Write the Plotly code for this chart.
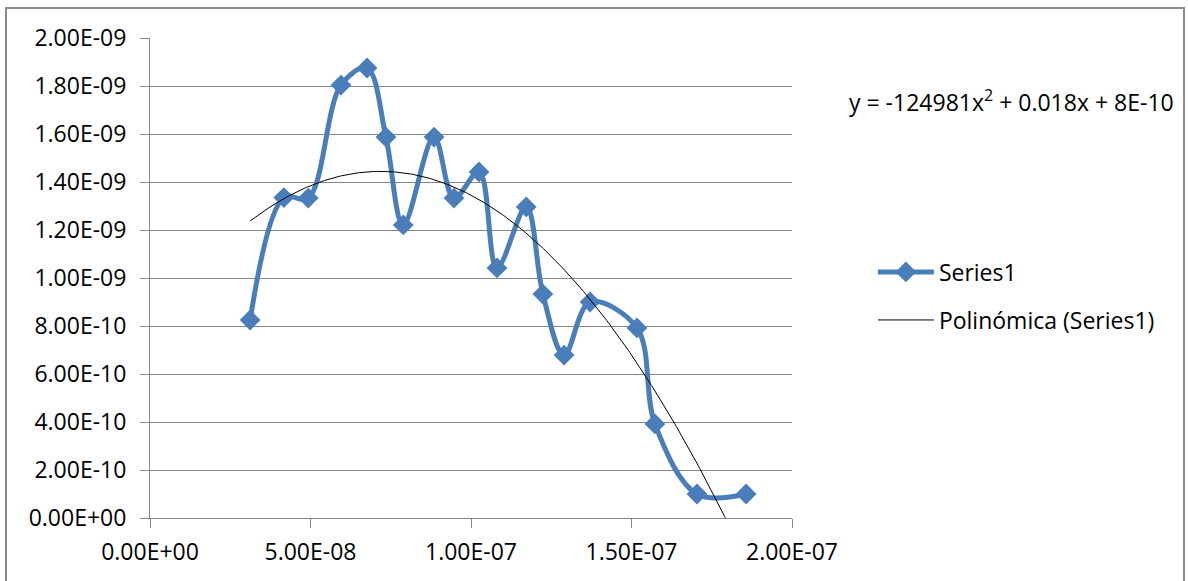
import numpy as np
import plotly.graph_objects as go

# Data
x_vals = [3.12e-08, 4.17e-08, 4.93e-08, 5.95e-08, 6.76e-08, 7.35e-08, 7.89e-08,
          8.85e-08, 9.47e-08, 1.025e-07, 1.081e-07, 1.172e-07, 1.224e-07,
          1.290e-07, 1.371e-07, 1.517e-07, 1.573e-07, 1.704e-07, 1.857e-07]
y_vals = [8.25e-10, 1.335e-09, 1.333e-09, 1.804e-09, 1.875e-09, 1.587e-09, 1.221e-09,
          1.587e-09, 1.333e-09, 1.442e-09, 1.042e-09, 1.296e-09, 9.33e-10,
          6.79e-10, 9.00e-10, 7.92e-10, 3.92e-10, 1.00e-10, 1.00e-10]
series_name = "Series1"
trend_name = "Polinómica (Series1)"
equation_text = "y = -124981x<sup>2</sup> + 0.018x + 8E-10"

x_ticks = [0, 5e-08, 1e-07, 1.5e-07, 2e-07]
y_ticks = [i * 2e-10 for i in range(11)]
x_ticktext = [f"{v:.2E}" for v in x_ticks]
y_ticktext = [f"{v:.2E}" for v in y_ticks]

# Polynomial (order 2) trend line fitted to the data
xs = np.array(x_vals) * 1e9
ys = np.array(y_vals) * 1e9
coef = np.polyfit(xs, ys, 2)
xt = np.linspace(xs.min(), xs.max(), 300)
yt = np.polyval(coef, xt)

FONT = "Open Sans"
FS = 23
BLUE = "#4A7EBB"
GRID = "#868686"

fig = go.Figure()
fig.add_trace(go.Scatter(
    x=x_vals, y=y_vals, name=series_name, mode="lines+markers",
    line=dict(color=BLUE, width=5, shape="spline", smoothing=1.0),
    marker=dict(symbol="diamond", size=16, color=BLUE),
    legend="legend", showlegend=True,
))
fig.add_trace(go.Scatter(
    x=(xt * 1e-9).tolist(), y=(yt * 1e-9).tolist(), name=trend_name, mode="lines",
    line=dict(color="black", width=1),
    legend="legend2", showlegend=True,
))

fig.update_layout(
    width=1188, height=581,
    margin=dict(l=150, r=396, t=38, b=63),
    showlegend=True,
    paper_bgcolor="white", plot_bgcolor="white",
    font=dict(family=FONT, size=FS, color="black"),
    legend=dict(x=1.126, y=(518 - 272) / 480, xanchor="left", yanchor="middle",
                font=dict(family=FONT, size=FS), bgcolor="rgba(0,0,0,0)",
                itemwidth=56),
    legend2=dict(x=1.126, y=(518 - 320) / 480, xanchor="left", yanchor="middle",
                 font=dict(family=FONT, size=FS), bgcolor="rgba(0,0,0,0)",
                 itemwidth=56),
    xaxis=dict(range=[0, 2e-07], tickvals=x_ticks, ticktext=x_ticktext,
               showgrid=False, zeroline=False, showline=True, linecolor=GRID,
               linewidth=1, ticks="outside", ticklen=9, tickcolor=GRID,
               ticklabelstandoff=4,
               tickfont=dict(family=FONT, size=FS, color="black")),
    yaxis=dict(range=[0, 2e-09], tickvals=y_ticks, ticktext=y_ticktext,
               showgrid=True, gridcolor=GRID, gridwidth=1, zeroline=False,
               showline=True, linecolor=GRID, linewidth=1, ticks="outside",
               ticklen=9, tickcolor=GRID, ticklabelstandoff=9,
               tickfont=dict(family=FONT, size=FS, color="black")),
    shapes=[dict(type="rect", xref="paper", yref="paper",
                 x0=(6 - 150) / 642, x1=(1184 - 150) / 642,
                 y0=-0.3, y1=(518 - 8) / 480,
                 line=dict(color="#8C8C8C", width=2), layer="below")],
    annotations=[dict(text=equation_text, xref="paper", yref="paper",
                      x=(847 - 150) / 642, y=(518 - 101) / 480,
                      xanchor="left", yanchor="middle", showarrow=False,
                      font=dict(family=FONT, size=FS, color="black"))],
)

fig.write_html(
    "out.html",
    config={"displayModeBar": False},
    post_script="document.body.style.margin='0';"
                "document.documentElement.style.overflow='hidden';",
)
